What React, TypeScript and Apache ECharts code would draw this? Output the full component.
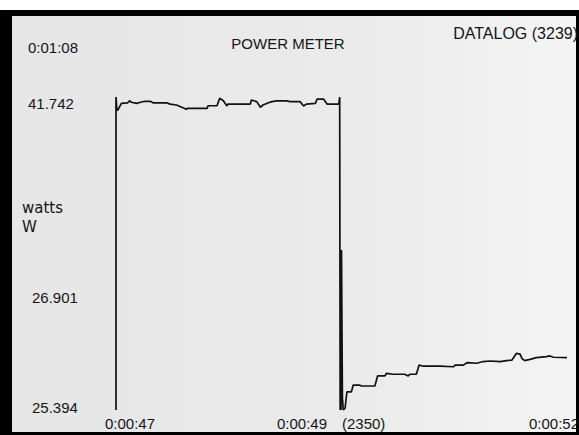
import React, { useEffect, useRef } from "react";
import * as echarts from "echarts";

// Time (seconds within 0:00:47 .. 0:00:52) and power (watts) of the logged trace
const times: number[] = [
  47.0, 47.0, 47.01, 47.02, 47.06, 47.13, 47.15, 47.17, 47.23, 47.27, 47.32, 47.38, 47.41, 47.56,
  47.6, 47.67, 47.73, 47.78, 47.79, 48.01, 48.02, 48.12, 48.15, 48.19, 48.23, 48.24, 48.49, 48.5,
  48.56, 48.6, 48.63, 48.69, 48.73, 48.78, 48.89, 48.93, 49.04, 49.08, 49.11, 49.21, 49.23, 49.3,
  49.34, 49.47, 49.48, 49.485, 49.49, 49.495, 49.5, 49.51, 49.52, 49.54, 49.56, 49.61, 49.63, 49.7,
  49.72, 49.87, 49.9, 49.98, 50.0, 50.07, 50.2, 50.24, 50.26, 50.33, 50.36, 50.4, 50.59, 50.74,
  50.76, 50.85, 50.89, 51.0, 51.07, 51.15, 51.26, 51.33, 51.39, 51.44, 51.48, 51.5, 51.53, 51.59,
  51.66, 51.77, 51.81, 51.85, 52.0,
];
const watts: number[] = [
  25.23, 42.01, 41.31, 41.31, 41.67, 41.7, 41.81, 41.73, 41.67, 41.73, 41.78, 41.78, 41.7, 41.7,
  41.63, 41.58, 41.46, 41.35, 41.4, 41.4, 41.54, 41.54, 41.94, 41.81, 41.53, 41.63, 41.63, 41.85,
  41.76, 41.46, 41.58, 41.7, 41.76, 41.8, 41.8, 41.76, 41.76, 41.53, 41.63, 41.67, 41.9, 41.9,
  41.63, 41.63, 42.01, 25.23, 33.81, 25.23, 33.81, 25.88, 25.23, 25.34, 26.21, 26.21, 26.57, 26.57,
  26.52, 26.52, 27.06, 27.06, 27.2, 27.15, 27.15, 27.06, 27.15, 27.15, 27.64, 27.59, 27.59, 27.55,
  27.64, 27.64, 27.77, 27.74, 27.83, 27.86, 27.83, 27.88, 27.91, 28.27, 28.23, 28.0, 27.88, 27.95,
  28.04, 28.09, 28.13, 28.06, 28.04,
];

const title = "POWER METER";
const logLabel = "DATALOG (3239)";
const clockLabel = "0:01:08";
const yLabels: string[] = ["41.742", "26.901", "25.394"];
const unitLabels: string[] = ["watts", "W"];
const xLabels: string[] = ["0:00:47", "0:00:49", "(2350)", "0:00:52"];
const yMin = 25.394;
const yMax = 41.742;
const tMin = 47;
const tMax = 52;

export default function App() {
  const ref = useRef<HTMLDivElement>(null);
  useEffect(() => {
    if (!ref.current) return;
    const chart = echarts.init(ref.current, undefined, { renderer: "svg" });
    const font = "Liberation Sans, Arial, sans-serif";
    const txt = (text: string, x: number, y: number, size = 15, align = "left", fam = font) => ({
      type: "text",
      x,
      y,
      z: 5,
      style: { text, fill: "#151515", font: `${size}px ${fam}`, textAlign: align, textVerticalAlign: "middle" },
    });
    chart.setOption({
      animation: false,
      backgroundColor: "#ffffff",
      grid: { left: 116, right: 12, top: 102, bottom: 28 },
      xAxis: { type: "value", min: tMin, max: tMax, show: false },
      yAxis: { type: "value", min: yMin, max: yMax, show: false },
      graphic: [
        { type: "rect", z: 0, shape: { x: 0, y: 10, width: 579, height: 425 }, style: { fill: "#000" } },
        {
          type: "rect",
          z: 1,
          shape: { x: 12, y: 16, width: 564, height: 416 },
          style: {
            fill: new echarts.graphic.LinearGradient(0, 0, 1, 0, [
              { offset: 0, color: "#e6e6e6" },
              { offset: 0.6, color: "#ebebeb" },
              { offset: 1, color: "#f4f4f4" },
            ]),
          },
        },
        txt(title, 288, 43, 15, "center"),
        txt(logLabel, 578, 33, 16, "right"),
        txt(clockLabel, 28, 47),
        txt(yLabels[0], 28, 103),
        txt(unitLabels[0], 22, 208, 15, "left", "DejaVu Sans, sans-serif"),
        txt(unitLabels[1], 22, 227, 15, "left", "DejaVu Sans, sans-serif"),
        txt(yLabels[1], 32, 297),
        txt(yLabels[2], 32, 407),
        txt(xLabels[0], 105, 423),
        txt(xLabels[1], 277, 423),
        txt(xLabels[2], 342, 423),
        txt(xLabels[3], 579, 423, 15, "right"),
      ],
      series: [
        {
          type: "line",
          data: times.map((t, i) => [t, watts[i]]),
          showSymbol: false,
          clip: false,
          z: 10,
          lineStyle: { color: "#111", width: 1.7 },
        },
      ],
    });
    return () => chart.dispose();
  }, []);
  return <div ref={ref} style={{ position: "fixed", left: 0, top: 0, width: 579, height: 435 }} />;
}
